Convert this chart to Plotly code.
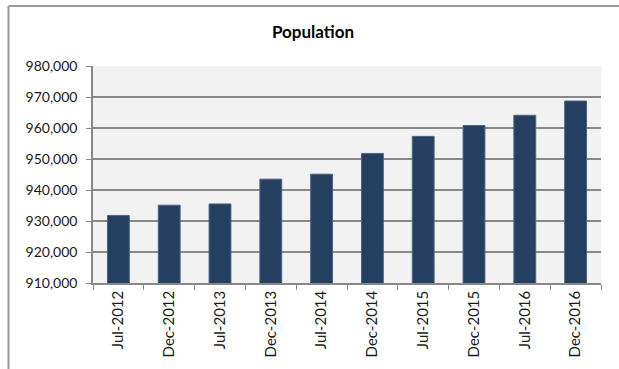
import plotly.graph_objects as go

# Mid-year and year-end population estimates
periods = ["Jul-2012", "Dec-2012", "Jul-2013", "Dec-2013", "Jul-2014",
           "Dec-2014", "Jul-2015", "Dec-2015", "Jul-2016", "Dec-2016"]
population = [931800, 935100, 935500, 943500, 945100,
              951800, 957300, 960800, 964100, 968700]

y_ticks = [910000, 920000, 930000, 940000, 950000, 960000, 970000, 980000]

W, H = 619, 369
L, R, T, B = 93, 18, 66, 84

fig = go.Figure(
    go.Bar(
        x=periods,
        y=population,
        width=0.43,
        marker=dict(color="#243f60", line=dict(color="#4d6384", width=1)),
        hoverinfo="x+y",
    )
)

font = "Lato, 'Open Sans', sans-serif"
grid = "#888888"

fig.update_layout(
    width=W,
    height=H,
    margin=dict(l=L, r=R, t=T, b=B),
    paper_bgcolor="white",
    plot_bgcolor="#f2f2f2",
    showlegend=False,
    font=dict(family=font, size=14, color="#1a1a1a"),
    title=dict(
        text="<b>Population</b>",
        x=313 / W, xanchor="center", xref="container",
        y=1 - 32 / H, yanchor="middle",
        font=dict(family=font, size=17, color="black"),
    ),
    xaxis=dict(
        type="category",
        tickson="boundaries",
        ticks="outside",
        ticklen=5,
        tickcolor=grid,
        tickangle=-90,
        showgrid=False,
        showline=True,
        linecolor=grid,
        linewidth=1.5,
        tickfont=dict(family=font, size=15, color="#1a1a1a"),
        fixedrange=True,
    ),
    yaxis=dict(
        range=[910000, 980000],
        tickvals=y_ticks,
        tickformat=",",
        ticks="outside",
        ticklen=5,
        tickcolor=grid,
        ticklabelstandoff=6,
        showgrid=True,
        gridcolor=grid,
        gridwidth=1.5,
        showline=True,
        linecolor=grid,
        linewidth=1.5,
        zeroline=False,
        tickfont=dict(family=font, size=14, color="#1a1a1a"),
        fixedrange=True,
    ),
)

# Outer chart frame (top and left edges visible within the page)
pw = W - L - R
ph = H - T - B
def px_x(p):
    return (p - L) / pw
def px_y(p):
    return (H - B - p) / ph

fig.add_shape(type="line", xref="paper", yref="paper",
              x0=px_x(8.5), x1=px_x(W + 5), y0=px_y(5.5), y1=px_y(5.5),
              line=dict(color="#9a9a9a", width=2))
fig.add_shape(type="line", xref="paper", yref="paper",
              x0=px_x(8.5), x1=px_x(8.5), y0=px_y(5.5), y1=px_y(H + 5),
              line=dict(color="#9a9a9a", width=2))

fig.write_html("out.html")
